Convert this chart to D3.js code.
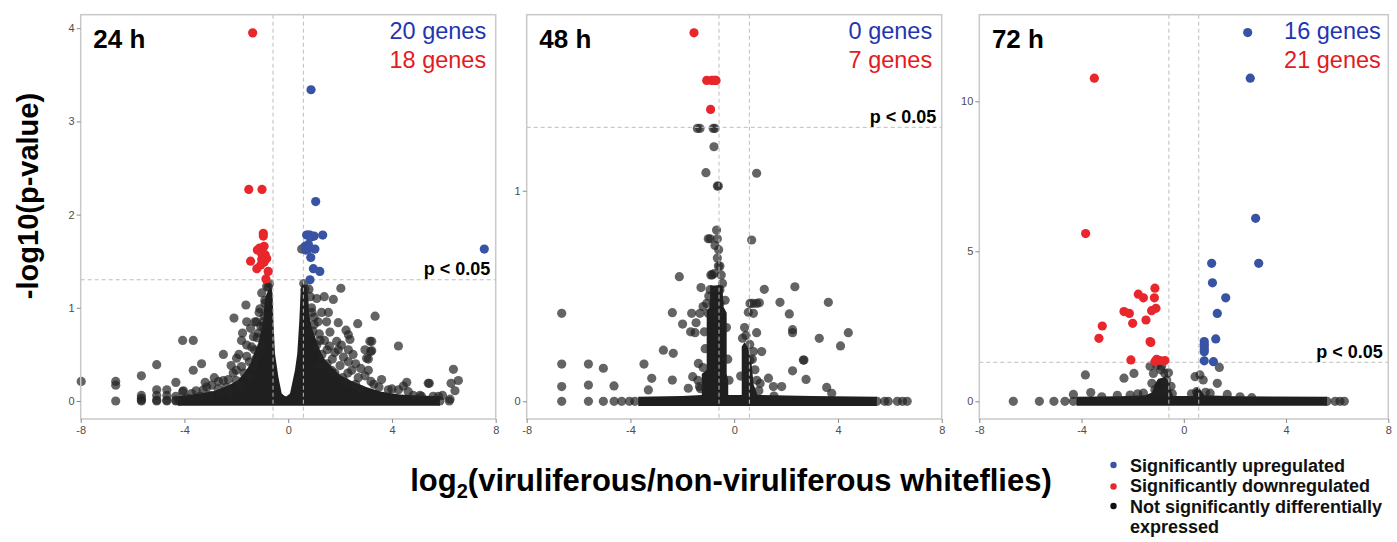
<!DOCTYPE html>
<html>
<head>
<meta charset="utf-8">
<script src="https://cdn.jsdelivr.net/npm/d3@7/dist/d3.min.js"></script>
<style>
  body { margin: 0; background: #fff; }
  svg { display: block; font-family: Arial, "Liberation Sans", Helvetica, sans-serif; }
</style>
</head>
<body>
<svg id="chart" width="1397" height="542"></svg>
<script>
// ---- values ----
var timeLabels = ["24 h", "48 h", "72 h"];
var upCounts = [20, 0, 16];
var downCounts = [18, 7, 21];
var xTicks = [-8, -4, 0, 4, 8];
var yTicks24 = [0, 1, 2, 3, 4];
var yTicks48 = [0, 1];
var yTicks72 = [0, 5, 10];
var yDomain24 = [-0.193, 4.145];
var yDomain48 = [-0.084, 1.836];
var yDomain72 = [-0.59, 12.887];
var fcCut = [-0.585, 0.585];   // log2(1.5)
var pCut = 1.301;              // -log10(0.05)
var legendLabels = ["Significantly upregulated", "Significantly downregulated", "Not significantly differentially", "expressed"];

// 24 h
var up24 = [[0.88,3.34],[1.06,2.14],[0.71,1.78],[0.84,1.78],[0.77,1.78],[1.33,1.78],[0.65,1.66],[0.78,1.63],[1.03,1.63],
  [0.87,1.54],[0.97,1.42],[1.22,1.39],[0.84,1.3],[7.56,1.63],[0.78,1.68],[1.0,1.77],[0.68,1.62],[0.88,1.76]];
var down24 = [[-1.37,3.95],[-1.52,2.27],[-1.01,2.27],[-0.96,1.8],[-0.96,1.77],[-1.11,1.64],[-0.93,1.66],[-1.19,1.62],
  [-1.02,1.58],[-0.89,1.57],[-1.02,1.52],[-0.83,1.53],[-1.45,1.5],[-1.21,1.42],[-0.93,1.49],[-0.77,1.39],[-0.86,1.31],[-1.06,1.46]];
var ns24 = [[-7.98,0.21],[-6.65,0.21],[-6.65,0.17],[-6.65,0],[-5.66,0.27],[-5.66,0.06],[-5.66,0.03],[-5.66,0.01],[-5.66,0],
  [-5.07,0.39],[-5.07,0.12],[-5.07,0.06],[-5.07,0.01],[-5.07,0],[-4.68,0.12],[-4.68,0.06],[-4.68,0.01],[-4.68,0],
  [-4.33,0.2],[-4.33,0.05],[-4.33,0.01],[-4.33,0],[-4.07,0.65],[-4.07,0.1],[-3.66,0.65],[-3.66,0.33],[-3.55,0.11],
  [-3.34,0.4],[-3.27,0.12],[-3.14,0.15],[-2.95,0.17],[-2.5,0.5],[-2.5,0.22],[-2.69,0.21],[-2.09,0.89],[-1.99,0.46],
  [-1.76,0.73],[-1.63,1.03],[-1.6,0.85],[-1.28,0.85],[-1.22,0.85],[-1.09,0.99],[-1.02,1.16],[-0.96,0.85],[-0.9,1.08],
  [-0.83,1.23],[-0.77,1.22],[-1.8,0.65],[-1.34,0.69],[-1.41,0.58],[-1.6,0.48],[-1.8,0.37],[-2.12,0.3],[-2.31,0.23],
  [-1.34,0.37],[-1.09,0.55],[-1.15,0.73],[-0.96,0.8],[-0.93,0.91],[-0.89,1.05],[-1.47,0.26],[-1.86,0.15],[-2.24,0.1],
  [-2.63,0.08],[-3.02,0.06],[-3.4,0.05],[-3.72,0.08],[-4.04,0.11],[-3.9,0.03],[-3.6,0.02],[-0.72,1.26],[-4.2,0],
  [-1.3,0.55],[-1.5,0.42],[-1.7,0.3],[-2.0,0.22],[-2.4,0.15],[-1.2,0.68],[-1.05,0.8],[-2.7,0.13],[-1.9,0.5],[-2.2,0.38],
  [-1.12,0.95],[-1.45,0.78],[-1.0,0.6],[-1.6,0.6],[-2.85,0.25],[-3.2,0.2],[-2.0,0.33],[-1.25,0.45],
  [0.52,1.63],[0.6,1.26],[0.65,1.2],[2.03,1.21],[1.1,1.1],[1.39,1.12],[1.74,1.09],[1.29,0.95],[1.55,0.95],[3.35,0.91],
  [1.48,0.85],[1.93,0.84],[2.68,0.83],[2.23,0.76],[1.61,0.74],[2.32,0.71],[1.23,0.65],[1.87,0.64],[2.38,0.66],[3.15,0.64],
  [4.25,0.59],[1.59,0.59],[1.93,0.55],[2.32,0.55],[2.96,0.55],[3.22,0.54],[2.13,0.47],[3.09,0.45],[2.32,0.42],[1.23,0.37],
  [1.67,0.33],[2.45,0.33],[3.09,0.33],[2.96,0.27],[3.6,0.23],[3.19,0.21],[6.37,0.34],[6.56,0.22],[6.28,0.19],[5.4,0.19],
  [4.44,0.16],[4.25,0.12],[4.63,0.1],[5.08,0.06],[3.86,0.12],[6.24,0.02],[5.79,0.05],[6.43,0.11],[5.95,0.06],[6.21,0],
  [4.57,0.2],[3.02,0.46],[3.18,0.53],[3.22,0.64],[5.44,0.19],[4.82,0.06],[5.14,0.05],[5.59,0.05],[0.9,1.0],[1.0,0.9],
  [0.95,0.75],[1.1,0.6],[1.3,0.5],[1.5,0.4],[1.8,0.3],[2.1,0.25],[2.6,0.18],[2.8,0.12],[5.85,0],
  [1.2,0.72],[1.5,0.55],[1.7,0.45],[2.0,0.38],[2.3,0.3],[2.7,0.25],[3.3,0.18],[4.0,0.13],[1.0,0.82],[0.92,0.95],
  [2.6,0.4],[2.8,0.35],[1.8,0.52],[2.05,0.6],[2.5,0.5],[1.4,0.65],[1.15,0.85],[2.2,0.2],[3.5,0.15],[0.85,1.12],[0.8,1.2]];
// outline of the solid black mass where points overlap
var core24 = [[-4.25,-0.05],[-4.25,0.05],[-4.0,0.06],[-3.4,0.08],[-2.8,0.11],[-2.3,0.17],[-1.95,0.22],[-1.7,0.3],
  [-1.45,0.4],[-1.32,0.51],[-1.15,0.62],[-1.05,0.75],[-0.96,0.87],[-0.93,1.0],[-0.88,1.12],[-0.75,1.2],[-0.65,1.22],
  [-0.6,1.15],[-0.57,0.87],[-0.51,0.51],[-0.38,0.26],[-0.25,0.08],[-0.12,0.05],[-0.06,0.05],[0.07,0.08],[0.26,0.33],
  [0.35,0.51],[0.43,0.87],[0.48,1.19],[0.55,1.27],[0.72,1.22],[0.78,1.1],[0.8,0.95],[0.9,0.8],[1.05,0.68],[1.2,0.56],
  [1.4,0.45],[1.7,0.36],[2.0,0.28],[2.4,0.22],[3.0,0.15],[3.6,0.1],[4.3,0.07],[5.0,0.06],[5.85,0.05],[5.85,-0.05]];

// 48 h
var up48 = [];
var down48 = [[-1.55,1.75],[-1.06,1.524],[-0.87,1.524],[-0.81,1.524],[-0.74,1.524],[-0.7,1.524],[-0.91,1.386]];
var ns48 = [[-1.42,1.296],[-1.32,1.296],[-0.81,1.296],[-0.74,1.296],[-0.78,1.209],[-1.09,1.086],[0.865,1.083],[-0.65,1.022],
  [-0.61,1.022],[-0.68,0.813],[-1.0,0.772],[-0.93,0.772],[-0.65,0.772],[-0.74,0.74],[0.673,0.766],[-0.61,0.642],[-0.55,0.642],
  [-0.77,0.607],[-2.116,0.592],[-1.28,0.54],[-0.93,0.53],[-0.61,0.53],[-0.55,0.53],[1.16,0.532],[2.34,0.544],[1.765,0.47],
  [3.63,0.47],[0.61,0.465],[0.71,0.465],[0.865,0.465],[0.97,0.468],[-1.06,0.465],[-0.81,0.465],[-0.55,0.465],[-6.65,0.418],
  [-2.385,0.421],[-1.64,0.418],[-1.32,0.418],[-1.0,0.418],[-0.68,0.418],[-0.55,0.418],[0.545,0.423],[0.74,0.418],[2.125,0.415],
  [-1.99,0.367],[-1.47,0.373],[2.25,0.34],[2.25,0.326],[-1.68,0.33],[-1.51,0.326],[0.865,0.326],[4.4,0.326],[0.455,0.313],
  [3.28,0.299],[4.1,0.263],[-2.73,0.243],[-2.35,0.228],[0.74,0.236],[1.06,0.236],[2.665,0.196],[2.69,0.196],[-6.65,0.177],
  [-5.62,0.177],[-5.045,0.157],[-3.478,0.177],[-1.38,0.18],[0.61,0.196],[2.25,0.145],[-3.18,0.109],[-2.385,0.101],[-1.6,0.117],
  [0.48,0.11],[0.87,0.1],[1.32,0.11],[1.0,0.085],[2.77,0.104],[-6.65,0.07],[-5.62,0.077],[-4.634,0.073],[-3.31,0.054],
  [-1.77,0.062],[-1.34,0.07],[1.51,0.07],[1.83,0.07],[3.565,0.066],[3.76,0.038],[1.535,0.025],[-6.65,0],[-5.62,0],[-5.045,0],
  [-4.63,0],[-4.34,0],[-4.04,0],[-3.83,0],[5.5,0],[5.8,0],[5.94,0],[6.29,0],[6.49,0],[6.67,0],[-0.65,0.68],[-0.9,0.6],[-0.6,0.72],
  [-1.2,0.16],[-1.12,0.25],[-1.15,0.33],[-0.98,0.5],[-0.85,0.6],[-0.5,0.6],[-0.35,0.48],[-0.3,0.35],[-0.25,0.2],[-1.4,0.1],
  [-1.3,0.06],[-0.2,0.1],[-1.2,0.45],[-0.45,0.56],[0.32,0.3],[0.6,0.27],[0.7,0.2],[0.8,0.15],[0.95,0.05],[0.25,0.12],[0.4,0.35]];
var core48 = [[-3.7,-0.022],[-3.7,0.022],[-2.0,0.025],[-1.25,0.03],[-1.25,0.13],[-1.06,0.15],[-1.06,0.43],[-0.93,0.45],
  [-0.93,0.55],[-0.45,0.55],[-0.42,0.45],[-0.29,0.42],[-0.29,0.13],[-0.23,0.1],[-0.23,0.03],[0.29,0.03],[0.29,0.26],
  [0.4,0.28],[0.55,0.25],[0.67,0.18],[0.75,0.08],[0.9,0.03],[3.0,0.025],[5.5,0.022],[5.5,-0.022]];

// 72 h
var up72 = [[2.5,12.29],[2.6,10.77],[2.81,6.1],[2.93,4.6],[1.09,4.6],[1.12,3.95],[1.64,3.45],[1.31,2.93],[1.25,2.08],
  [0.8,1.99],[0.8,1.9],[0.8,1.82],[0.8,1.73],[0.8,1.65],[0.8,1.35],[1.16,1.32]];
var down72 = [[-3.5,10.77],[-3.84,5.59],[-1.78,3.57],[-1.58,3.45],[-1.13,3.77],[-1.15,3.45],[-1.09,3.1],[-1.26,3.02],
  [-2.34,2.99],[-2.13,2.93],[-2.0,2.6],[-1.48,2.71],[-3.19,2.51],[-3.32,2.1],[-1.32,1.99],[-1.29,1.96],[-2.07,1.38],
  [-1.06,1.4],[-0.93,1.36],[-0.74,1.36],[-1.13,1.32]];
var ns72 = [[-6.67,0],[-5.65,0],[-5.08,0],[-4.65,0],[-4.32,0],[-4.32,0.23],[-3.85,0.88],[-3.64,0.29],[-2.34,0.77],[-1.95,0.93],
  [-1.32,1.17],[-1.06,1.2],[-0.87,1.17],[-1.19,0.93],[-0.74,0.93],[-0.67,0.71],[-1.13,0.38],[-0.74,0.38],[-3.21,0.15],
  [-2.1,0.21],[-1.58,0.27],[-1.06,0.3],[0.63,0.88],[0.76,0.71],[1.31,0.6],[1.39,1.13],[1.03,0.27],[1.7,0.23],[2.66,0.12],
  [0.5,0.32],[0.44,0.82],[5.92,0],[6.11,0],[6.28,0],[5.6,0],[-0.9,1.05],[-0.6,0.95],[-1.25,0.6],[-0.5,0.5],[-2.6,0.2],
  [-1.8,0.25],[-0.45,0.25],[0.85,0.3],[0.3,0.25],[2.2,0.15]];
var core72 = [[-4.2,-0.15],[-4.2,0.15],[-2.5,0.17],[-1.5,0.2],[-1.22,0.3],[-1.15,0.55],[-1.0,0.75],[-0.72,0.8],
  [-0.56,0.62],[-0.5,0.35],[-0.42,0.18],[0.35,0.18],[0.4,0.38],[0.55,0.46],[0.7,0.33],[0.8,0.2],[2.0,0.17],[5.6,0.15],[5.6,-0.15]];

// ---- layout ----
var svg = d3.select("#chart");
var panelTop = 14.7, panelBottom = 419;
var panelLefts = [80.7, 526.7, 979.3];
var panelWidths = [415, 415, 409];

var colUp = "#3953a4", colDown = "#e8262b", colNs = "#222";
var txtUp = "#1f36b0", txtDown = "#e31a22";

drawPanel(0, yDomain24, yTicks24, ns24, core24, up24, down24);
drawPanel(1, yDomain48, yTicks48, ns48, core48, up48, down48);
drawPanel(2, yDomain72, yTicks72, ns72, core72, up72, down72);
drawLabels();

function drawPanel(i, yDomain, yTicks, ns, core, up, down) {
  var left = panelLefts[i], w = panelWidths[i], h = panelBottom - panelTop;
  var x = d3.scaleLinear().domain([-8, 8]).range([0, w]);
  var y = d3.scaleLinear().domain(yDomain).range([h, 0]);

  var g = svg.append("g").attr("transform", "translate(" + left + "," + panelTop + ")");

  // dense overlapping points
  var line = d3.line().x(function(d) { return x(d[0]); }).y(function(d) { return y(d[1]); }).curve(d3.curveLinearClosed);
  g.append("path").attr("d", line(core)).attr("fill", "#1f1f1f");

  var r = 4.6;
  g.selectAll(".ns").data(ns).enter().append("circle")
    .attr("cx", function(d) { return x(d[0]); }).attr("cy", function(d) { return y(d[1]); })
    .attr("r", r).attr("fill", colNs).attr("fill-opacity", 0.7);

  // threshold lines (drawn over the black mass, as in the figure)
  g.selectAll(".vcut").data(fcCut).enter().append("line")
    .attr("x1", function(d) { return x(d); }).attr("x2", function(d) { return x(d); })
    .attr("y1", 0).attr("y2", h)
    .attr("stroke", "#bdbdbd").attr("stroke-width", 1).attr("stroke-dasharray", "4,3");
  g.append("line")
    .attr("x1", 0).attr("x2", w).attr("y1", y(pCut)).attr("y2", y(pCut))
    .attr("stroke", "#bdbdbd").attr("stroke-width", 1).attr("stroke-dasharray", "4,3");

  g.selectAll(".dn").data(down).enter().append("circle")
    .attr("cx", function(d) { return x(d[0]); }).attr("cy", function(d) { return y(d[1]); })
    .attr("r", r).attr("fill", colDown);
  g.selectAll(".up").data(up).enter().append("circle")
    .attr("cx", function(d) { return x(d[0]); }).attr("cy", function(d) { return y(d[1]); })
    .attr("r", r).attr("fill", colUp);

  // border
  g.append("rect").attr("x", 0).attr("y", 0).attr("width", w).attr("height", h)
    .attr("fill", "none").attr("stroke", "#c9c9c9").attr("stroke-width", 1.5);

  // axes
  var ya = g.append("g").call(d3.axisLeft(y).tickValues(yTicks).tickSize(4).tickPadding(2)
    .tickFormat(function(d) { return String(d); }));
  var xa = g.append("g").attr("transform", "translate(0," + h + ")")
    .call(d3.axisBottom(x).tickValues(xTicks).tickSize(4).tickPadding(3)
    .tickFormat(function(d) { return String(d); }));
  [ya, xa].forEach(function(a) {
    a.select(".domain").remove();
    a.selectAll(".tick line").attr("stroke", "#8a8a8a");
    a.selectAll(".tick text").attr("fill", "#4d4d4d").style("font-size", "11px")
      .style("font-family", "Arial, 'Liberation Sans', sans-serif");
  });

  // texts
  g.append("text").attr("x", 12.6).attr("y", 48 - panelTop).text(timeLabels[i])
    .style("font-size", "26px").style("font-weight", "bold").attr("fill", "#000");
  var rx = w - (i == 2 ? 7.5 : 9.5);
  g.append("text").attr("x", rx).attr("y", 39.5 - panelTop).attr("text-anchor", "end")
    .text(upCounts[i] + " genes").style("font-size", "23.5px").attr("fill", txtUp);
  g.append("text").attr("x", rx).attr("y", 68.5 - panelTop).attr("text-anchor", "end")
    .text(downCounts[i] + " genes").style("font-size", "23.5px").attr("fill", txtDown);
  g.append("text").attr("x", w - 5.5).attr("y", y(pCut) - 4.5).attr("text-anchor", "end")
    .text("p < 0.05").style("font-size", "18px").style("font-weight", "bold").attr("fill", "#000");
}

function drawLabels() {
  svg.append("text").attr("transform", "translate(38,196) rotate(-90)")
    .attr("text-anchor", "middle").text("-log10(p-value)")
    .style("font-size", "29px").style("font-weight", "bold");

  var xl = svg.append("text").attr("x", 731).attr("y", 491).attr("text-anchor", "middle")
    .style("font-size", "31px").style("font-weight", "bold");
  xl.append("tspan").text("log");
  xl.append("tspan").text("2").attr("dy", 7).style("font-size", "20px");
  xl.append("tspan").text("(viruliferous/non-viruliferous whiteflies)").attr("dy", -7);

  var dotCols = [colUp, colDown, "#111", null];
  var lg = svg.append("g");
  lg.selectAll("circle").data(legendLabels).enter().filter(function(d, i) { return dotCols[i]; })
    .append("circle").attr("cx", 1113.5).attr("cy", function(d, i) { return [465, 486.5, 506][i]; })
    .attr("r", 3.2).attr("fill", function(d, i) { return dotCols[i]; });
  lg.selectAll("text").data(legendLabels).enter().append("text")
    .attr("x", 1130).attr("y", function(d, i) { return 471.5 + i * 20.5; })
    .text(function(d) { return d; })
    .style("font-size", "18px").style("font-weight", "bold").attr("fill", "#111");
}
</script>
</body>
</html>
